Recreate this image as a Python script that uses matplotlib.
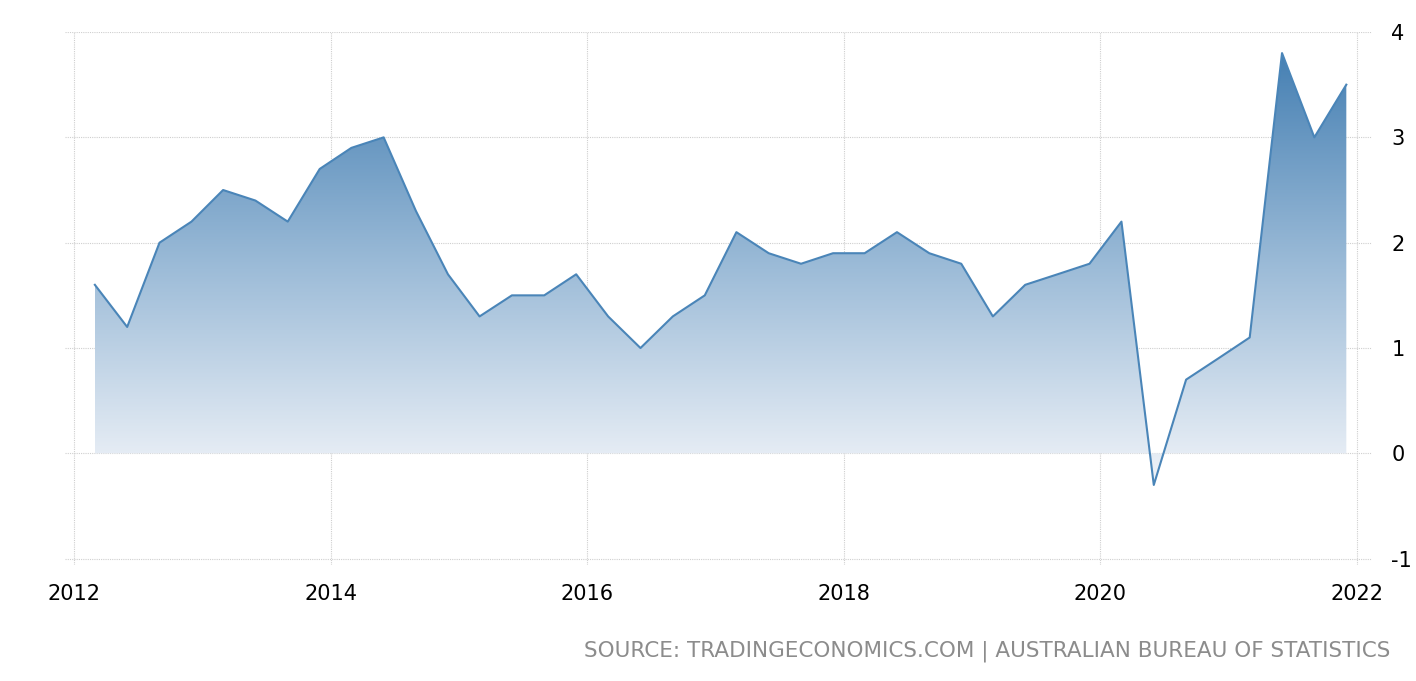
import numpy as np
import pandas as pd
import matplotlib
matplotlib.use("Agg")
import matplotlib.pyplot as plt
import matplotlib.dates as mdates
from matplotlib.colors import LinearSegmentedColormap
from matplotlib.patches import PathPatch

# ---- data ----
start_quarter = "2012-03-01"
values = [1.6, 1.2, 2.0, 2.2, 2.5, 2.4, 2.2, 2.7, 2.9, 3.0,
          2.3, 1.7, 1.3, 1.5, 1.5, 1.7, 1.3, 1.0, 1.3, 1.5,
          2.1, 1.9, 1.8, 1.9, 1.9, 2.1, 1.9, 1.8, 1.3, 1.6,
          1.7, 1.8, 2.2, -0.3, 0.7, 0.9, 1.1, 3.8, 3.0, 3.5]
year_ticks = [2012, 2014, 2016, 2018, 2020, 2022]
y_ticks = [-1, 0, 1, 2, 3, 4]
source_text = "SOURCE: TRADINGECONOMICS.COM | AUSTRALIAN BUREAU OF STATISTICS"

dates = pd.date_range(start_quarter, periods=len(values), freq="3MS")
xd = mdates.date2num(dates.to_pydatetime())
vals = np.array(values)

fig = plt.figure(figsize=(14.16, 6.81), dpi=100)
ax = fig.add_axes([0.0459, 0.1703, 0.923, 0.7827])

x0 = mdates.date2num(pd.Timestamp("2011-12-07"))
x1 = mdates.date2num(pd.Timestamp("2022-02-12"))
ax.set_xlim(x0, x1)
ax.set_ylim(-1.06, 4.0)

line_color = "#4a85b8"
# gradient fill
fill = ax.fill_between(xd, vals, 0, color="none", lw=0)
cmap = LinearSegmentedColormap.from_list("g", ["#f1f4f9", "#9dbcd8", "#4680b3"])
ymax = vals.max()
ymin = vals.min()
grad = np.linspace(0, 1, 256).reshape(-1, 1)
im = ax.imshow(grad, cmap=cmap, aspect="auto", origin="lower",
               extent=[xd[0], xd[-1], ymin, ymax], zorder=1)
paths = fill.get_paths()
if paths:
    patch = PathPatch(paths[0], transform=ax.transData, facecolor="none", edgecolor="none")
    ax.add_patch(patch)
    im.set_clip_path(patch)

ax.plot(xd, vals, color=line_color, lw=1.5, zorder=3, solid_joinstyle="round")

# grid
for yt in y_ticks:
    ax.axhline(yt, color="#cfcfcf", lw=0.8, ls=(0, (1, 1)), zorder=0)
for yr in year_ticks:
    ax.axvline(mdates.date2num(pd.Timestamp(f"{yr}-01-01")), color="#cfcfcf",
               lw=0.8, ls=(0, (1, 1)), zorder=0)

ax.set_xticks([mdates.date2num(pd.Timestamp(f"{yr}-01-01")) for yr in year_ticks])
ax.set_xticklabels([str(y) for y in year_ticks], fontsize=15)
ax.set_yticks(y_ticks)
ax.set_yticklabels([str(y) for y in y_ticks], fontsize=15)
ax.yaxis.tick_right()
ax.tick_params(axis="x", length=0, pad=14, colors="black")
ax.tick_params(axis="y", length=0, pad=14, colors="black")
for s in ax.spines.values():
    s.set_visible(False)

fig.text(0.982, 0.043, source_text, ha="right", va="center",
         fontsize=15.5, color="#8c8c8c")

fig.savefig("out.png", dpi=100)
